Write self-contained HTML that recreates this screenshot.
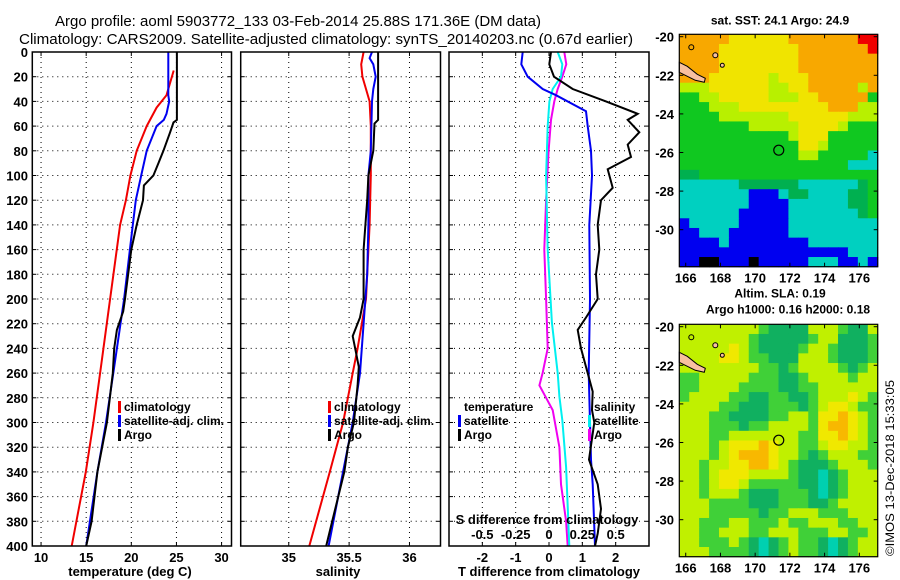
<!DOCTYPE html>
<html><head><meta charset="utf-8">
<style>
html,body{margin:0;padding:0;background:#fff;}
svg{display:block;}
text{font-family:"Liberation Sans",sans-serif;font-weight:bold;fill:#000;}
</style></head>
<body>
<svg id="fig" width="900" height="580" viewBox="0 0 900 580" xmlns="http://www.w3.org/2000/svg">
<text x="298" y="26" text-anchor="middle" font-size="15" style="font-weight:normal" textLength="486" lengthAdjust="spacingAndGlyphs">Argo profile: aoml 5903772_133 03-Feb-2014 25.88S 171.36E (DM data)</text>
<text x="326" y="44" text-anchor="middle" font-size="15" style="font-weight:normal" textLength="614" lengthAdjust="spacingAndGlyphs">Climatology: CARS2009. Satellite-adjusted climatology: synTS_20140203.nc (0.67d earlier)</text>
<g id="plots"></g>
<text transform="translate(894,556) rotate(-90)" font-size="12" style="font-weight:normal" textLength="176" lengthAdjust="spacingAndGlyphs">©IMOS 13-Dec-2018 15:33:05</text>
</svg>
<script>
// ---- data ----
const tDepth   = [0,35,40,50,55,60,80,100,120,140,200,260,300,340,400];
const tSat     = [24.1,24.1,24.2,23.9,23.6,22.8,21.7,21.1,20.5,20.17,19.2,18.0,17.2,16.24,15.0];
const tClimDepth=[15,25,35,45,60,80,100,120,140,200,260,300,340,400];
const tClim    = [24.7,24.3,23.9,22.8,21.7,20.6,19.9,19.4,18.76,17.65,16.54,15.8,14.96,13.4];
const tArgoDepth=[0,55,57,65,80,90,100,108,120,140,160,200,210,225,240,260,300,340,380,400];
const tArgo    = [25.05,25.05,24.67,24.3,23.56,23.0,22.45,21.4,21.3,20.6,20.0,19.3,19.1,18.4,18.1,17.95,17.3,16.24,15.6,15.0];

const sDepth   = [0,5,10,20,30,40,80,100,140,180,220,260,300,360,400];
const sSat     = [35.69,35.67,35.70,35.72,35.70,35.69,35.68,35.66,35.66,35.65,35.62,35.59,35.53,35.41,35.33];
const sClimDepth=[0,10,20,30,40,60,100,140,180,200,240,260,300,340,400];
const sClim    = [35.62,35.60,35.61,35.64,35.67,35.68,35.68,35.67,35.65,35.64,35.57,35.53,35.45,35.34,35.17];
const sArgoDepth=[0,55,58,80,100,120,160,200,215,230,245,255,270,300,320,340,380,400];
const sArgo    = [35.74,35.74,35.71,35.70,35.66,35.65,35.62,35.62,35.59,35.53,35.56,35.58,35.57,35.54,35.49,35.46,35.36,35.31];

const dTDepth  = [0,10,20,30,35,48,60,80,100,140,200,260,300,330,350,400];
const dTSat    = [-0.79,-0.83,-0.64,-0.19,0.21,1.11,1.16,1.26,1.29,1.21,1.23,1.19,1.23,1.26,1.31,1.38];
const dTArgoDepth=[0,10,20,30,40,50,55,65,75,85,95,110,120,140,160,180,200,215,225,240,260,275,290,300,330,350,370,390,400];
const dTArgo   = [0.06,0.01,0.15,0.71,1.71,2.66,2.36,2.71,2.36,2.46,1.76,1.91,1.56,1.46,1.51,1.41,1.46,1.11,0.86,0.96,1.16,1.31,1.29,1.36,1.2,1.46,1.56,1.46,1.38];
const dSArgoDepth=[0,10,20,30,40,55,80,120,160,200,240,260,270,280,290,320,350,380,400];
const dSArgo   = [0.115,0.13,0.10,0.065,0.04,0.015,-0.003,-0.022,-0.035,-0.022,-0.01,-0.048,-0.072,-0.022,0.028,0.078,0.09,0.128,0.14];
const dSSatDepth=[0,10,20,30,40,60,100,160,219,260,279,298,336,400];
const dSSat    = [0.065,0.10,0.09,0.028,0.003,-0.01,-0.022,-0.01,0.022,0.065,0.078,0.10,0.128,0.152];

const depthTicks=[0,20,40,60,80,100,120,140,160,180,200,220,240,260,280,300,320,340,360,380,400];
const tTicks=[10,15,20,25,30];
const sTicks=[35,35.5,36];
const dTTicks=[-2,-1,0,1,2];
const dSTicks=[-0.5,-0.25,0,0.25,0.5];
const latTicks=[-20,-22,-24,-26,-28,-30];
const lonTicks=[166,168,170,172,174,176];

// SST map color grid (20 cols x 24 rows)
const sstGrid=[
"OOOOOYYYYYYOOOOOOORR","OOOOYYYYYYYYOOOOOOOR","OOOOYYYYYYYYOOOOOOOO","OOOOYYYYYYYYOOOOOOOO",
"OOOYYYYYYLYYYOOOOOOO","LLLYYYYYYLLYYOOOOOLO","GGLLYYYYYLLLYYOOOOOG","GGGLLLYYYYYYYYYOOOLL",
"GGGGLLLLLLLYYYYYYLLL","GGGGGGGLLLLLYYYYLGGG","GGGGGGGGGGGLYYYGGGGG","GGGGGGGGGGGGYYLGGGGG",
"GGGGGGGGGGGGLLGGGGGT","GGGGGGGGGGGGGGGGGTTT","DDGGGGGGGGGGGGGGGGGG","TTTTTTDDDDDDTTTTTTDG",
"TTTTTTTBBBTDDTTTTDDG","TTTTTTTBBBBTTTTTTDDG","TTTTTTBBBBBTTTTTTTDG","BTTTTTBBBBBTTTTTTTTT",
"BBTTTBBBBBBTTTTTTTTT","BBBBTBBBBBBBBTTTTTTT","BBBBBBBBBBBBBBBBBTTT","BBKKBBBKBBBBBTTTBBTB"];
const sstColors={O:"#f8a800",Y:"#f0e400",L:"#b8f000",G:"#10c820",D:"#00b050",T:"#00d0c0",B:"#0000f0",R:"#f00000",K:"#000000"};
// SLA map grid
const slaGrid=[
"LLLLLLLLGDDDDLLLGDDL","LLLLLLLGDDDDDGLLDDDG","LLLLLYLGDDDDGLLGDDDG","LLLLYYLGGDDDLLLGDDDG",
"LLLLLLLLGGDGLLLLGDGL","GGLLLLLGGGDDGLLLLGLL","GGLLLLGGGGDDGGLLLLLL","GLLLLGGDDGGDDGLLLYLG",
"LLLLGGDDDGGGDGLYYLGG","LLLGGDDDDGGLLGYYOYLG","LLLGGGDGGLLLLGYOOYLG","LLLGGLLLLLLLGGYYOYLG",
"LLLGLYYYOYLLGGLYYLLG","LLLGLYOOOYLLGDGLLLGG","LLGLLYYOOYLGDDDGLLLG","LLGLYYYLLLLGDDTDGLLL",
"LLGLYYLGGGGGDDTDGLLL","LLGLLLGDDDGGGDTDGLLL","LLLGGGGDDDGGGDDGLLLL","LLLGGGGGDGGLLLGGGLLL",
"LLGGGLLGGGLGGLLLGGLL","LLGGLLLGGLLLGGGLLGGL","LLGGGLGDTDGLGGDTDGLL","LLLGGGGDTDGLGGDTDGLL"];
const slaColors={L:"#c0f000",G:"#40d038",D:"#10b060",Y:"#f0e800",O:"#f8b800",T:"#00d0b0"};

const NS="http://www.w3.org/2000/svg";
const root=document.getElementById('plots');
function mk(tag,attrs,parent){const e=document.createElementNS(NS,tag);for(const k in attrs)e.setAttribute(k,attrs[k]);(parent||root).appendChild(e);return e;}
function txt(s,x,y,anchor,size,parent){const e=mk('text',{x:x,y:y,'text-anchor':anchor,'font-size':size},parent);e.textContent=s;return e;}

const Y0=52,Y1=546;
const yD=d=>Y0+d*(Y1-Y0)/400;

function panel(name,x0,x1,dmin,dmax){
  const g=mk('g',{});
  
  
  const xf=v=>x0+(v-dmin)*(x1-x0)/(dmax-dmin);
  return {g,xf,x0,x1};
}
function frame(p,xticksPos){
  depthTicks.forEach(d=>{ if(d>0&&d<400){const l=mk('line',{x1:p.x0,x2:p.x1,y1:yD(d),y2:yD(d),stroke:'#000','stroke-width':1,'stroke-dasharray':'1,4'},p.g);
    
    mk('line',{x1:p.x1-4,x2:p.x1,y1:yD(d),y2:yD(d),stroke:'#000'},p.g);mk('line',{x1:p.x0,x2:p.x0+4,y1:yD(d),y2:yD(d),stroke:'#000'},p.g);}});
  xticksPos.forEach(x=>{const l=mk('line',{x1:x,x2:x,y1:Y0,y2:Y1,stroke:'#000','stroke-width':1,'stroke-dasharray':'1,4'},p.g);
    
    mk('line',{x1:x,x2:x,y1:Y1-4,y2:Y1,stroke:'#000'},p.g);mk('line',{x1:x,x2:x,y1:Y0,y2:Y0+4,stroke:'#000'},p.g);});
}
function border(p){const r=mk('rect',{x:p.x0,y:Y0,width:p.x1-p.x0,height:Y1-Y0,fill:'none',stroke:'#000','stroke-width':1.5},p.g);
  }
function line(p,depths,vals,color,name,xf){
  const f=xf||p.xf;
  const pts=depths.map((d,i)=>f(vals[i]).toFixed(1)+','+yD(d).toFixed(1)).join(' ');
  const l=mk('polyline',{points:pts,fill:'none',stroke:color,'stroke-width':2},p.g);
  
  
}
function legend(p,x,y,items){
  items.forEach((it,i)=>{
    if(it.c){mk('rect',{x:x,y:y+i*14-10,width:3,height:12,fill:it.c},p.g);}
    const t=txt(it.t,x+6,y+i*14,'start',12,p.g);
    
    
  });
}

// Panel 1 temperature
const p1=panel('temperature-panel',32.3,231.5,9.03,31.1);
frame(p1,tTicks.map(p1.xf));
line(p1,tClimDepth,tClim,'#f00000','climatology-temperature-line');
line(p1,tDepth,tSat,'#0000f0','satellite-temperature-line');
line(p1,tArgoDepth,tArgo,'#000','argo-temperature-line');
border(p1);
depthTicks.forEach(d=>{const t=txt(String(d),28,yD(d)+5,'end',13,p1.g);});
tTicks.forEach(v=>{const t=txt(String(v),p1.xf(v),562,'middle',13,p1.g);});
{const t=txt('temperature (deg C)',130,576,'middle',13,p1.g);}
legend(p1,118,411,[{t:'climatology',c:'#f00000'},{t:'satellite-adj. clim.',c:'#0000f0'},{t:'Argo',c:'#000'}]);

// Panel 2 salinity
const p2=panel('salinity-panel',240.7,440.5,34.602,36.257);
frame(p2,sTicks.map(p2.xf));
line(p2,sClimDepth,sClim,'#f00000','climatology-salinity-line');
line(p2,sDepth,sSat,'#0000f0','satellite-salinity-line');
line(p2,sArgoDepth,sArgo,'#000','argo-salinity-line');
border(p2);
sTicks.forEach(v=>{const t=txt(String(v),p2.xf(v),562,'middle',13,p2.g);});
{const t=txt('salinity',338,576,'middle',13,p2.g);}
legend(p2,328,411,[{t:'climatology',c:'#f00000'},{t:'satellite-adj. clim.',c:'#0000f0'},{t:'Argo',c:'#000'}]);

// Panel 3 differences
const p3=panel('difference-panel',449,649,-3,3.0);
const sxf=v=>p3.xf(v*4);
frame(p3,dTTicks.map(p3.xf));
line(p3,dSArgoDepth,dSArgo,'#f000f0','argo-salinity-diff-line',sxf);
line(p3,dSSatDepth,dSSat,'#00f0f0','satellite-salinity-diff-line',sxf);
line(p3,dTDepth,dTSat,'#0000f0','satellite-temperature-diff-line');
line(p3,dTArgoDepth,dTArgo,'#000','argo-temperature-diff-line');
border(p3);
dTTicks.forEach(v=>{const t=txt(String(v),p3.xf(v),562,'middle',13,p3.g);});
dSTicks.forEach(v=>{const t=txt(String(v),sxf(v),539,'middle',13,p3.g);});
{const t=txt('T difference from climatology',549,576,'middle',13,p3.g);}
{const t=txt('S difference from climatology',547,524,'middle',13,p3.g);}
legend(p3,458,411,[{t:'temperature'},{t:'satellite',c:'#0000f0'},{t:'Argo',c:'#000'}]);
legend(p3,588,411,[{t:'salinity'},{t:'satellite',c:'#00f0f0'},{t:'Argo',c:'#f000f0'}]);

// Maps
function map(name,top,grid,colors,title1,title2){
  const g=mk('g',{});
  
  
  const L=679.3,R=877.7,H=232.4,B=top+H;
  const lonX=v=>L+(v-165.63)*(R-L)/(177.06-165.63);
  const latY=v=>top+2.4+(-20-v)*19.3;
  const cw=(R-L)/20,ch=H/24;
  grid.forEach((row,r)=>{for(let c=0;c<row.length;c++){
    const cell=mk('rect',{x:(L+c*cw).toFixed(2),y:(top+r*ch).toFixed(2),width:(cw+0.6).toFixed(2),height:(ch+0.6).toFixed(2),fill:colors[row[c]]},g);
    
    
  }});
  // land (New Caledonia)
  const land=mk('polygon',{points:`${L},${top+28} ${L+8},${top+32} ${L+18},${top+40} ${L+26},${top+44} ${L+25},${top+48} ${L+16},${top+46} ${L},${top+38}`,fill:'#f8c0a0',stroke:'#000','stroke-width':1},g);
  
  mk('circle',{cx:L+36,cy:top+21,r:2.5,fill:'#f8c0a0',stroke:'#000'},g);
  mk('circle',{cx:L+43,cy:top+31,r:2,fill:'#f8c0a0',stroke:'#000'},g);
  mk('circle',{cx:L+12,cy:top+13,r:2.5,fill:'none',stroke:'#000'},g);
  const c=mk('circle',{cx:lonX(171.36),cy:latY(-25.88),r:5,fill:'none',stroke:'#000','stroke-width':1.2},g);
  
  const fr=mk('rect',{x:L,y:top,width:R-L,height:H,fill:'none',stroke:'#000','stroke-width':1.2},g);
  
  latTicks.forEach(v=>{const y=latY(v);mk('line',{x1:L,x2:L+4,y1:y,y2:y,stroke:'#000'},g);mk('line',{x1:R-4,x2:R,y1:y,y2:y,stroke:'#000'},g);
    const t=txt(String(v),674,y+5,'end',13,g);});
  lonTicks.forEach(v=>{const x=lonX(v);mk('line',{x1:x,x2:x,y1:top,y2:top+4,stroke:'#000'},g);mk('line',{x1:x,x2:x,y1:B-4,y2:B,stroke:'#000'},g);
    const t=txt(String(v),x,B+16,'middle',13,g);});
  const t1=txt(title1,780,title2?top-27:top-10,'middle',12,g);
  if(title2){const t2=txt(title2,788,top-11,'middle',12,g);}
}
map('sst-map',34.3,sstGrid,sstColors,'sat. SST: 24.1 Argo: 24.9');
map('sla-map',324.3,slaGrid,slaColors,'Altim. SLA: 0.19','Argo h1000: 0.16 h2000: 0.18');
</script>
</body></html>
